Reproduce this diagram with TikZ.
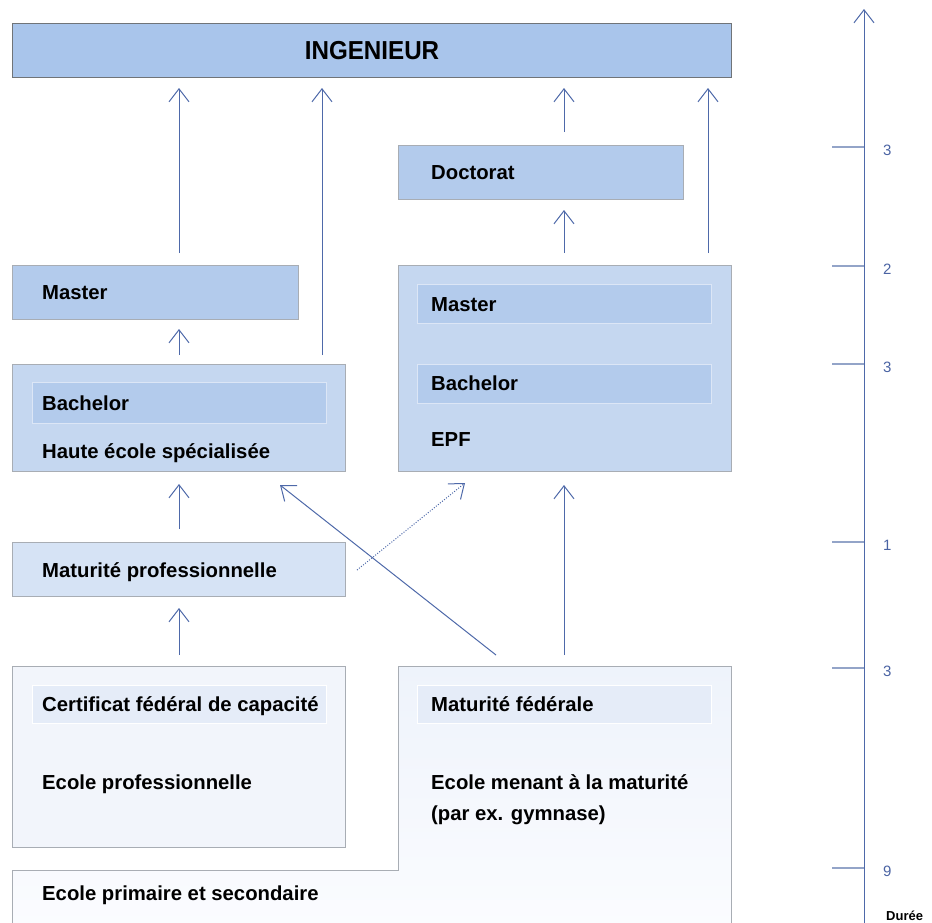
\documentclass[tikz,border=0pt]{standalone}
\usepackage{fontspec}
\setmainfont{Liberation Sans}
\usetikzlibrary{arrows.meta}
\definecolor{ingfill}{HTML}{A9C5EB}
\definecolor{darkfill}{HTML}{B3CBEC}
\definecolor{midfill}{HTML}{C5D7F0}
\definecolor{lightfill}{HTML}{D6E3F5}
\definecolor{palefill}{HTML}{F2F5FB}
\definecolor{innerpale}{HTML}{E5ECF8}
\definecolor{gradtop}{HTML}{EEF3FB}
\definecolor{gradbot}{HTML}{FBFCFF}
\definecolor{boxline}{HTML}{A8ADB4}
\definecolor{ingline}{HTML}{707478}
\definecolor{innerline}{HTML}{DCE6F6}
\definecolor{arrowblue}{HTML}{4E69A9}
\definecolor{tickblue}{HTML}{93A4C8}
\definecolor{numblue}{HTML}{4A63A3}
\begin{document}
\begin{tikzpicture}[x=1pt,y=-1pt,
  box/.style={draw=boxline, line width=0.9pt, inner sep=0pt, outer sep=0pt, anchor=north west},
  inbox/.style={draw=innerline, line width=0.9pt, inner sep=0pt, outer sep=0pt, anchor=north west},
  lab/.style={anchor=base west, inner sep=0pt, font=\bfseries\fontsize{20.3}{24}\selectfont},
  num/.style={anchor=base west, inner sep=0pt, text=numblue, font=\fontsize{15}{17}\selectfont},
  arr/.style={draw=arrowblue, line width=1pt, -{Straight Barb[length=13pt,width=20pt,line width=1pt]}},
  dotarr/.style={draw=arrowblue, line width=1pt, dash pattern=on 1pt off 1.6pt, -{Straight Barb[length=13pt,width=20pt,line width=1pt]}},
  tick/.style={draw=tickblue, line width=1.6pt}
]
\useasboundingbox (0,0) rectangle (932,922);

% boxes
\node[box, draw=ingline, fill=ingfill, minimum width=719pt, minimum height=54pt] (ing) at (12,23) {};
\node[box, fill=darkfill, minimum width=285pt, minimum height=54pt] (doc) at (398,145) {};
\node[box, fill=darkfill, minimum width=286pt, minimum height=54pt] (masterL) at (12,265) {};
\node[box, fill=midfill, minimum width=333pt, minimum height=107pt] (hes) at (12,364) {};
\node[inbox, fill=darkfill, minimum width=294pt, minimum height=41pt] (bachL) at (32,382) {};
\node[box, fill=midfill, minimum width=333pt, minimum height=206pt] (epf) at (398,265) {};
\node[inbox, fill=darkfill, minimum width=294pt, minimum height=39pt] (masterR) at (417,284) {};
\node[inbox, fill=darkfill, minimum width=294pt, minimum height=39pt] (bachR) at (417,364) {};
\node[box, fill=lightfill, minimum width=333pt, minimum height=54pt] (matpro) at (12,542) {};
\node[box, fill=palefill, minimum width=333pt, minimum height=181pt] (cfc) at (12,666) {};
\node[inbox, draw=white, fill=innerpale, minimum width=294pt, minimum height=38pt] (cfcin) at (32,685) {};

% Maturite federale + ecole primaire (merged shape)
\shade[top color=gradtop, bottom color=gradbot] (398,666) -- (731,666) -- (731,930) -- (12,930) -- (12,870) -- (398,870) -- cycle;
\draw[draw=boxline, line width=0.9pt] (12,930) -- (12,870) -- (398,870) -- (398,666) -- (731,666) -- (731,930);
\node[inbox, draw=white, fill=innerpale, minimum width=294pt, minimum height=38pt] (matfedin) at (417,685) {};

% texts
\node[anchor=base, inner sep=0pt, font=\bfseries\fontsize{26}{30}\selectfont] (tIng) at (372,59) {\scalebox{0.93}[1]{INGENIEUR}};
\node[lab] (tDoc) at (431,179) {Doctorat};
\node[lab] (tMasterL) at (42,299) {Master};
\node[lab] (tMasterR) at (431,311) {Master};
\node[lab] (tBachL) at (42,410) {Bachelor};
\node[lab] (tBachR) at (431,390) {Bachelor};
\node[lab] (tHes) at (42,458) {Haute école spécialisée};
\node[lab] (tEpf) at (431,446) {EPF};
\node[lab] (tMatpro) at (42,577) {Maturité professionnelle};
\node[lab] (tCfc) at (42,711) {Certificat fédéral de capacité};
\node[lab] (tMatfed) at (431,711) {Maturité fédérale};
\node[lab] (tEprof) at (42,789) {Ecole professionnelle};
\node[lab] (tEmat1) at (431,789) {Ecole menant à la maturité};
\node[lab] (tEmat2) at (431,820) {(par ex. gymnase)};
\node[lab] (tEprim) at (42,900) {Ecole primaire et secondaire};

% arrow end points
\coordinate (a1s) at (179,253); \coordinate (a1e) at (179,88);
\coordinate (a2s) at (322,355); \coordinate (a2e) at (322,88);
\coordinate (a3s) at (564,132); \coordinate (a3e) at (564,88);
\coordinate (a4s) at (708,253); \coordinate (a4e) at (708,88);
\coordinate (a5s) at (564,253); \coordinate (a5e) at (564,210);
\coordinate (a6s) at (179,355); \coordinate (a6e) at (179,329);
\coordinate (a7s) at (179,529); \coordinate (a7e) at (179,484);
\coordinate (a8s) at (179,655); \coordinate (a8e) at (179,608);
\coordinate (a9s) at (564,655); \coordinate (a9e) at (564,485);
\coordinate (a10s) at (496,655); \coordinate (a10e) at (280,485);
\coordinate (a11s) at (357,570); \coordinate (a11e) at (465,483);

\draw[arr] (a1s) -- (a1e);
\draw[arr] (a2s) -- (a2e);
\draw[arr] (a3s) -- (a3e);
\draw[arr] (a4s) -- (a4e);
\draw[arr] (a5s) -- (a5e);
\draw[arr] (a6s) -- (a6e);
\draw[arr] (a7s) -- (a7e);
\draw[arr] (a8s) -- (a8e);
\draw[arr] (a9s) -- (a9e);
\draw[arr] (a10s) -- (a10e);
\draw[dotarr] (a11s) -- (a11e);

% duration axis
\coordinate (axb) at (864,930);
\coordinate (axt) at (864,9);
\draw[arr] (axb) -- (axt);
\foreach \yy/\nn/\lab in {147/t1/3, 266/t2/2, 364/t3/3, 542/t4/1, 668/t5/3, 868/t6/9} {
  \coordinate (\nn) at (832,\yy);
  \draw[tick] (\nn) -- (864,\yy);
  \node[num] (n\nn) at (883,\yy+8) {\lab};
}
\node[anchor=base west, inner sep=0pt, font=\bfseries\fontsize{13}{15}\selectfont] (duree) at (886,920) {Durée};
\end{tikzpicture}
\end{document}
